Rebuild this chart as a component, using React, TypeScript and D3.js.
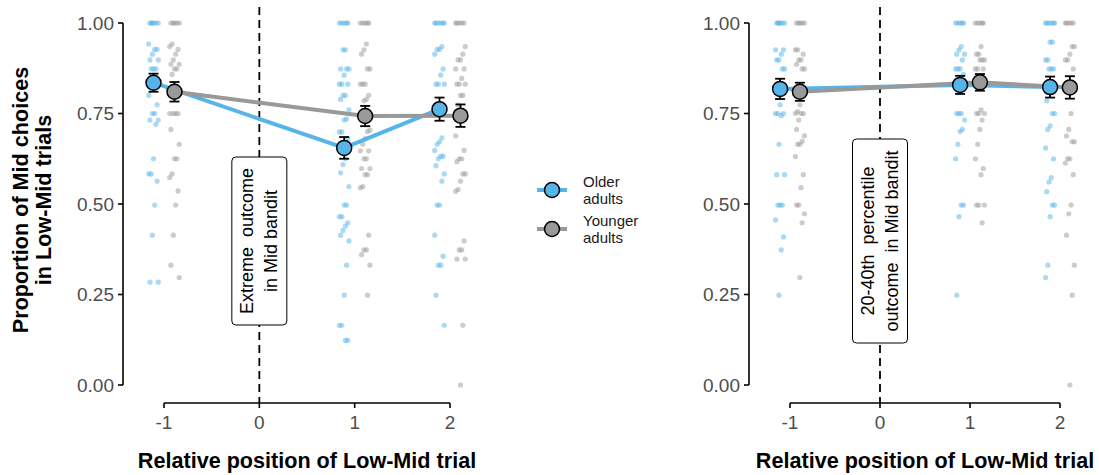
import React from 'react';
import * as d3 from 'd3';

// relative positions of the Low-Mid trial
const positions = [-1, 1, 2];
const yTicks = [0, 0.25, 0.5, 0.75, 1];
const xTicks = [-1, 0, 1, 2];

// individual participants, panel "extreme outcome"
const extOlderPrev = [1, 1, 1, 1, 1, 1, 0.942, 0.927, 0.927, 0.914, 0.898, 0.898, 0.873, 0.873, 0.873, 0.8, 0.774, 0.75, 0.75, 0.732, 0.732, 0.72, 0.625, 0.583, 0.583, 0.563, 0.497, 0.414, 0.284, 0.284];
const extYoungerPrev = [1, 1, 1, 1, 1, 0.942, 0.935, 0.927, 0.914, 0.898, 0.886, 0.886, 0.873, 0.873, 0.858, 0.75, 0.75, 0.75, 0.75, 0.706, 0.665, 0.625, 0.625, 0.583, 0.573, 0.536, 0.497, 0.414, 0.331, 0.297];
const extOlderNext = [1, 1, 1, 1, 1, 0.926, 0.926, 0.873, 0.873, 0.873, 0.856, 0.831, 0.831, 0.831, 0.8, 0.8, 0.789, 0.76, 0.735, 0.732, 0.699, 0.699, 0.68, 0.625, 0.609, 0.586, 0.548, 0.497, 0.497, 0.465, 0.465, 0.448, 0.439, 0.427, 0.414, 0.398, 0.331, 0.248, 0.165, 0.165, 0.123, 0.123];
const extYoungerNext = [1, 1, 1, 1, 1, 0.942, 0.926, 0.914, 0.873, 0.873, 0.831, 0.831, 0.831, 0.8, 0.789, 0.785, 0.75, 0.704, 0.7, 0.681, 0.665, 0.647, 0.647, 0.625, 0.625, 0.598, 0.598, 0.581, 0.581, 0.548, 0.545, 0.414, 0.373, 0.373, 0.36, 0.331, 0.248];
const extOlderNext2 = [1, 1, 1, 1, 1, 1, 0.935, 0.927, 0.927, 0.914, 0.873, 0.856, 0.831, 0.831, 0.831, 0.683, 0.672, 0.665, 0.648, 0.632, 0.632, 0.625, 0.606, 0.583, 0.563, 0.497, 0.497, 0.414, 0.356, 0.331, 0.331, 0.248, 0.165];
const extYoungerNext2 = [1, 1, 1, 1, 1, 0.935, 0.914, 0.898, 0.898, 0.873, 0.873, 0.847, 0.831, 0.831, 0.831, 0.8, 0.8, 0.774, 0.688, 0.648, 0.625, 0.625, 0.617, 0.583, 0.583, 0.563, 0.54, 0.535, 0.398, 0.373, 0.373, 0.348, 0.348, 0.165, 0];

const extOlderMean = [0.835, 0.655, 0.762];
const extOlderSe = [0.025, 0.03, 0.032];
const extYoungerMean = [0.81, 0.743, 0.744];
const extYoungerSe = [0.027, 0.028, 0.031];

// individual participants, panel "20-40th percentile"
const pctOlderPrev = [1, 1, 1, 1, 1, 1, 0.926, 0.926, 0.914, 0.898, 0.898, 0.873, 0.873, 0.774, 0.75, 0.75, 0.75, 0.744, 0.665, 0.581, 0.581, 0.497, 0.497, 0.497, 0.456, 0.409, 0.373, 0.248];
const pctYoungerPrev = [1, 1, 1, 1, 1, 0.926, 0.926, 0.914, 0.898, 0.898, 0.886, 0.873, 0.873, 0.774, 0.755, 0.75, 0.75, 0.75, 0.732, 0.706, 0.688, 0.673, 0.665, 0.665, 0.631, 0.581, 0.545, 0.497, 0.497, 0.473, 0.448, 0.297];
const pctOlderNext = [1, 1, 1, 1, 1, 0.935, 0.926, 0.914, 0.914, 0.898, 0.873, 0.873, 0.873, 0.858, 0.75, 0.75, 0.75, 0.732, 0.706, 0.7, 0.665, 0.625, 0.497, 0.497, 0.465, 0.248];
const pctYoungerNext = [1, 1, 1, 1, 1, 0.935, 0.914, 0.914, 0.898, 0.898, 0.898, 0.873, 0.873, 0.873, 0.76, 0.75, 0.75, 0.75, 0.732, 0.706, 0.665, 0.625, 0.598, 0.581, 0.497, 0.497, 0.497, 0.448];
const pctOlderNext2 = [1, 1, 1, 1, 1, 1, 0.947, 0.947, 0.898, 0.898, 0.873, 0.873, 0.873, 0.785, 0.75, 0.75, 0.716, 0.706, 0.655, 0.625, 0.573, 0.561, 0.534, 0.497, 0.497, 0.465, 0.331, 0.297];
const pctYoungerNext2 = [1, 1, 1, 1, 1, 0.935, 0.935, 0.914, 0.898, 0.898, 0.873, 0.75, 0.706, 0.688, 0.672, 0.672, 0.625, 0.625, 0.613, 0.581, 0.497, 0.473, 0.414, 0.331, 0.248, 0];

const pctOlderMean = [0.818, 0.829, 0.823];
const pctOlderSe = [0.028, 0.025, 0.029];
const pctYoungerMean = [0.81, 0.836, 0.822];
const pctYoungerSe = [0.025, 0.023, 0.031];

const OLDER = '#56B4E9';
const YOUNGER = '#999999';
const DODGE = 0.11;
const FONT = "'Liberation Sans', Arial, sans-serif";

const y = d3.scaleLinear().domain([0, 1]).range([385, 23]);

// small fixed spread so overlapping participants stay visible
const jit = (i: number) => ((((i * 7 + 3) % 9) - 4) / 4) * 0.05;

type Group = { color: string; shift: number; pts: number[][]; mean: number[]; se: number[] };

function Panel({ x0, x1, axisX, groups, label, boxH }: {
  x0: number; x1: number; axisX: number; groups: Group[]; label: string[]; boxH: number;
}) {
  const x = d3.scaleLinear().domain([-1, 2]).range([x0, x1]);
  const line = d3.line<[number, number]>().x(d => d[0]).y(d => d[1]);
  const boxCy = 241;
  return (
    <g>
      {/* dashed event marker */}
      <line x1={x(0)} x2={x(0)} y1={7} y2={403} stroke="#000" strokeWidth={1.8} strokeDasharray="8,5" />

      {/* participants */}
      {groups.map((g, gi) =>
        g.pts.map((vals, pi) =>
          vals.map((v, i) => (
            <circle key={`${gi}-${pi}-${i}`} cx={x(positions[pi] + g.shift + jit(i + pi * 3))} cy={y(v)} r={2.6}
              fill={g.color} fillOpacity={0.5} />
          ))
        )
      )}

      {/* group lines */}
      {groups.map((g, gi) => (
        <path key={`l${gi}`} d={line(positions.map((p, i) => [x(p + g.shift), y(g.mean[i])])) || ''}
          fill="none" stroke={g.color} strokeWidth={4} />
      ))}

      {/* error bars + means */}
      {groups.map((g, gi) =>
        positions.map((p, i) => {
          const cx = x(p + g.shift);
          const top = y(g.mean[i] + g.se[i]);
          const bot = y(g.mean[i] - g.se[i]);
          return (
            <g key={`m${gi}-${i}`}>
              <line x1={cx} x2={cx} y1={top} y2={bot} stroke="#000" strokeWidth={1.8} />
              <line x1={cx - 5} x2={cx + 5} y1={top} y2={top} stroke="#000" strokeWidth={1.8} />
              <line x1={cx - 5} x2={cx + 5} y1={bot} y2={bot} stroke="#000" strokeWidth={1.8} />
              <circle cx={cx} cy={y(g.mean[i])} r={7.5} fill={g.color} stroke="#000" strokeWidth={1.5} />
            </g>
          );
        })
      )}

      {/* annotation box */}
      <rect x={x(0) - 27.5} y={boxCy - boxH / 2} width={55} height={boxH} rx={4} fill="#fff" stroke="#000" strokeWidth={1} />
      <text transform={`translate(${x(0)},${boxCy}) rotate(-90)`} textAnchor="middle" fontFamily={FONT} fontSize={18} fill="#000">
        <tspan x={0} dy={-6}>{label[0]}</tspan>
        <tspan x={0} dy={24}>{label[1]}</tspan>
      </text>

      {/* y axis */}
      <line x1={axisX} x2={axisX} y1={y(0)} y2={y(1)} stroke="#000" strokeWidth={1.6} />
      {yTicks.map(t => (
        <g key={`yt${t}`}>
          <line x1={axisX - 5} x2={axisX} y1={y(t)} y2={y(t)} stroke="#000" strokeWidth={1.6} />
          <text x={axisX - 9} y={y(t)} dy="0.35em" textAnchor="end" fontFamily={FONT} fontSize={19} fill="#4d4d4d">
            {t.toFixed(2)}
          </text>
        </g>
      ))}

      {/* x axis */}
      <line x1={x(-1)} x2={x(2)} y1={403} y2={403} stroke="#000" strokeWidth={1.6} />
      {xTicks.map(t => (
        <g key={`xt${t}`}>
          <line x1={x(t)} x2={x(t)} y1={403} y2={408} stroke="#000" strokeWidth={1.6} />
          <text x={x(t)} y={429} textAnchor="middle" fontFamily={FONT} fontSize={19} fill="#4d4d4d">{t}</text>
        </g>
      ))}
      <text x={(x(-1) + x(2)) / 2} y={468} textAnchor="middle" fontFamily={FONT} fontSize={21.6} fontWeight="bold" fill="#000">
        Relative position of Low-Mid trial
      </text>
    </g>
  );
}

export default function App() {
  const extGroups: Group[] = [
    { color: OLDER, shift: -DODGE, pts: [extOlderPrev, extOlderNext, extOlderNext2], mean: extOlderMean, se: extOlderSe },
    { color: YOUNGER, shift: DODGE, pts: [extYoungerPrev, extYoungerNext, extYoungerNext2], mean: extYoungerMean, se: extYoungerSe },
  ];
  const pctGroups: Group[] = [
    { color: OLDER, shift: -DODGE, pts: [pctOlderPrev, pctOlderNext, pctOlderNext2], mean: pctOlderMean, se: pctOlderSe },
    { color: YOUNGER, shift: DODGE, pts: [pctYoungerPrev, pctYoungerNext, pctYoungerNext2], mean: pctYoungerMean, se: pctYoungerSe },
  ];
  const legend = [
    { color: OLDER, lines: ['Older', 'adults'], cy: 190 },
    { color: YOUNGER, lines: ['Younger', 'adults'], cy: 229 },
  ];

  return (
    <svg width={1099} height={475} style={{ position: 'absolute', left: 0, top: 0, background: '#fff' }}>
      {/* y title */}
      <text transform="translate(32,200) rotate(-90)" textAnchor="middle" fontFamily={FONT} fontSize={21.6} fontWeight="bold" fill="#000">
        <tspan x={0} dy={-4}>Proportion of Mid choices</tspan>
        <tspan x={0} dy={23}>in Low-Mid trials</tspan>
      </text>

      <Panel x0={164} x1={450} axisX={123} groups={extGroups} label={['Extreme\u00a0\u00a0outcome', 'in Mid bandit']} boxH={168} />
      <Panel x0={790} x1={1060} axisX={749} groups={pctGroups} label={['20-40th\u00a0\u00a0percentile', 'outcome\u00a0\u00a0in Mid bandit']} boxH={204} />

      {/* legend */}
      {legend.map(l => (
        <g key={l.lines[0]}>
          <line x1={537} x2={567} y1={l.cy} y2={l.cy} stroke={l.color} strokeWidth={4} />
          <circle cx={552} cy={l.cy} r={7.5} fill={l.color} stroke="#000" strokeWidth={1.5} />
          <text x={583} y={l.cy - 3} fontFamily={FONT} fontSize={15} fill="#1a1a1a">
            <tspan x={583} dy={0}>{l.lines[0]}</tspan>
            <tspan x={583} dy={17}>{l.lines[1]}</tspan>
          </text>
        </g>
      ))}
    </svg>
  );
}
